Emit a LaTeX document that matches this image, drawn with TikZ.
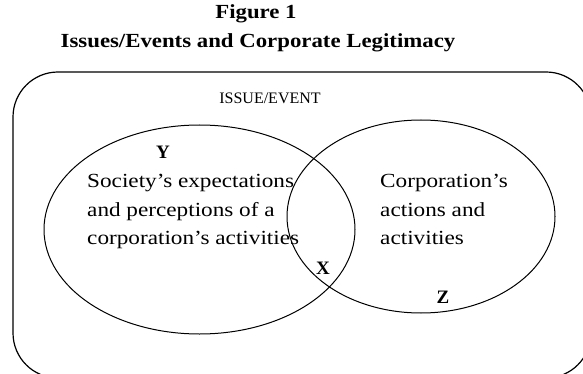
\documentclass[tikz,border=0pt]{standalone}
\usepackage{fontspec}
\setmainfont{Liberation Serif}
\newfontfamily\widefont[FakeStretch=1.16]{Liberation Serif}
\newfontfamily\headfont[FakeStretch=1.14]{Liberation Serif}
\begin{document}
\begin{tikzpicture}[x=1pt,y=-1pt,
  frame/.style={draw=black, line width=1.2pt, rounded corners=45pt},
  ring/.style={draw=black, line width=1pt},
  bodyline/.style={font=\widefont\fontsize{20}{28}\selectfont, anchor=base west, inner sep=0pt},
  letter/.style={font=\fontsize{19}{19}\selectfont\bfseries, anchor=base, inner sep=0pt},
  heading/.style={font=\headfont\fontsize{20}{20}\selectfont\bfseries, anchor=base, inner sep=0pt},
  label/.style={font=\fontsize{16}{16}\selectfont, anchor=base, inner sep=0pt}]
\useasboundingbox (0,0) rectangle (583,374);
\clip (0,0) rectangle (583,374);

% titles
\node[heading] (fig) at (256,19) {Figure 1};
\node[heading] (caption) at (258,48) {Issues/Events and Corporate Legitimacy};

% surrounding issue/event frame
\draw[frame] (13,72) rectangle (591,378);
\node[label] (issue) at (270,104) {ISSUE/EVENT};

% the two overlapping sets
\draw[ring] (199.5,229.5) ellipse [x radius=155.5, y radius=104.5];
\draw[ring] (421,216.5) ellipse [x radius=134, y radius=96.5];

% society's side
\node[bodyline] (soc1) at (87,188) {Society’s expectations};
\node[bodyline] (soc2) at (87,216) {and perceptions of a};
\node[bodyline] (soc3) at (87,244) {corporation’s activities};

% corporation's side
\node[bodyline] (corp1) at (380,188) {Corporation’s};
\node[bodyline] (corp2) at (380,216) {actions and};
\node[bodyline] (corp3) at (380,244) {activities};

% region letters
\node[letter] (y) at (163,159) {Y};
\node[letter] (x) at (323,274) {X};
\node[letter] (z) at (443,303) {Z};
\end{tikzpicture}
\end{document}
